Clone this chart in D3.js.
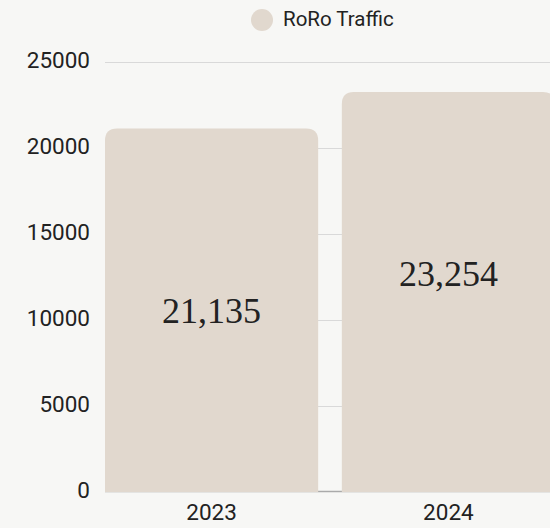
<!DOCTYPE html>
<html>
<head>
<meta charset="utf-8">
<script src="https://cdn.jsdelivr.net/npm/d3@7"></script>
<style>
  html, body { margin: 0; padding: 0; background: #f7f7f5; }
  svg { display: block; }
</style>
</head>
<body>
<svg id="chart" width="550" height="528"></svg>
<script>
// data
var years = ["2023", "2024"]
var roroTraffic = [21135, 23254]
var yTicks = [0, 5000, 10000, 15000, 20000, 25000]
var seriesName = "RoRo Traffic"

var width = 550, height = 528
var margin = { top: 62, right: -5, bottom: 36, left: 105 }
var barColor = "#e1d8ce"

var svg = d3.select("#chart")

var x = d3.scaleBand()
          .domain(years)
          .range([margin.left, width - margin.right])
          .paddingInner(0.1)
          .paddingOuter(0)

var y = d3.scaleLinear()
          .domain([0, 25000])
          .range([height - margin.bottom, margin.top])

// grid lines
svg.append("g")
   .selectAll("line")
   .data(yTicks.filter(function (d) { return d > 0 }))
   .join("line")
   .attr("x1", margin.left)
   .attr("x2", width)
   .attr("y1", function (d) { return y(d) + 0.5 })
   .attr("y2", function (d) { return y(d) + 0.5 })
   .attr("stroke", "#d9d9d9")
   .attr("stroke-width", 1)

// zero line
svg.append("line")
   .attr("x1", margin.left)
   .attr("x2", width)
   .attr("y1", y(0) - 0.5)
   .attr("y2", y(0) - 0.5)
   .attr("stroke", "#aaaaaa")
   .attr("stroke-width", 1.5)

// y labels
svg.append("g")
   .selectAll("text")
   .data(yTicks)
   .join("text")
   .attr("x", 90)
   .attr("y", function (d) { return y(d) })
   .attr("text-anchor", "end")
   .attr("dominant-baseline", "middle")
   .attr("font-family", "Roboto, sans-serif")
   .attr("font-size", 22.5)
   .attr("fill", "#222")
   .text(function (d) { return d })

// bars with rounded top corners
var r = 12
function barPath(d, i) {
    var x0 = x(years[i]), x1 = x0 + x.bandwidth()
    var y0 = y(0), y1 = y(d)
    return "M" + x0 + "," + y0 +
           "L" + x0 + "," + (y1 + r) +
           "Q" + x0 + "," + y1 + " " + (x0 + r) + "," + y1 +
           "L" + (x1 - r) + "," + y1 +
           "Q" + x1 + "," + y1 + " " + x1 + "," + (y1 + r) +
           "L" + x1 + "," + y0 + "Z"
}

svg.append("g")
   .selectAll("path")
   .data(roroTraffic)
   .join("path")
   .attr("d", barPath)
   .attr("fill", barColor)

// value labels, hung a fixed distance under the bar top
svg.append("g")
   .selectAll("text")
   .data(roroTraffic)
   .join("text")
   .attr("x", function (d, i) { return x(years[i]) + x.bandwidth() / 2 })
   .attr("y", function (d) { return y(d) + 186 })
   .attr("text-anchor", "middle")
   .attr("dominant-baseline", "middle")
   .attr("font-family", "'Liberation Serif', serif")
   .attr("font-size", 36)
   .attr("fill", "#222")
   .text(function (d) { return d3.format(",")(d) })

// x labels
svg.append("g")
   .selectAll("text")
   .data(years)
   .join("text")
   .attr("x", function (d) { return x(d) + x.bandwidth() / 2 })
   .attr("y", y(0) + 22)
   .attr("text-anchor", "middle")
   .attr("dominant-baseline", "middle")
   .attr("font-family", "Roboto, sans-serif")
   .attr("font-size", 22.5)
   .attr("fill", "#222")
   .text(function (d) { return d })

// legend
var legend = svg.append("g")
legend.append("circle")
      .attr("cx", 262)
      .attr("cy", 20)
      .attr("r", 11)
      .attr("fill", barColor)
legend.append("text")
      .attr("x", 283)
      .attr("y", 21)
      .attr("dominant-baseline", "middle")
      .attr("font-family", "Roboto, sans-serif")
      .attr("font-size", 20.5)
      .attr("fill", "#222")
      .text(seriesName)
</script>
</body>
</html>
